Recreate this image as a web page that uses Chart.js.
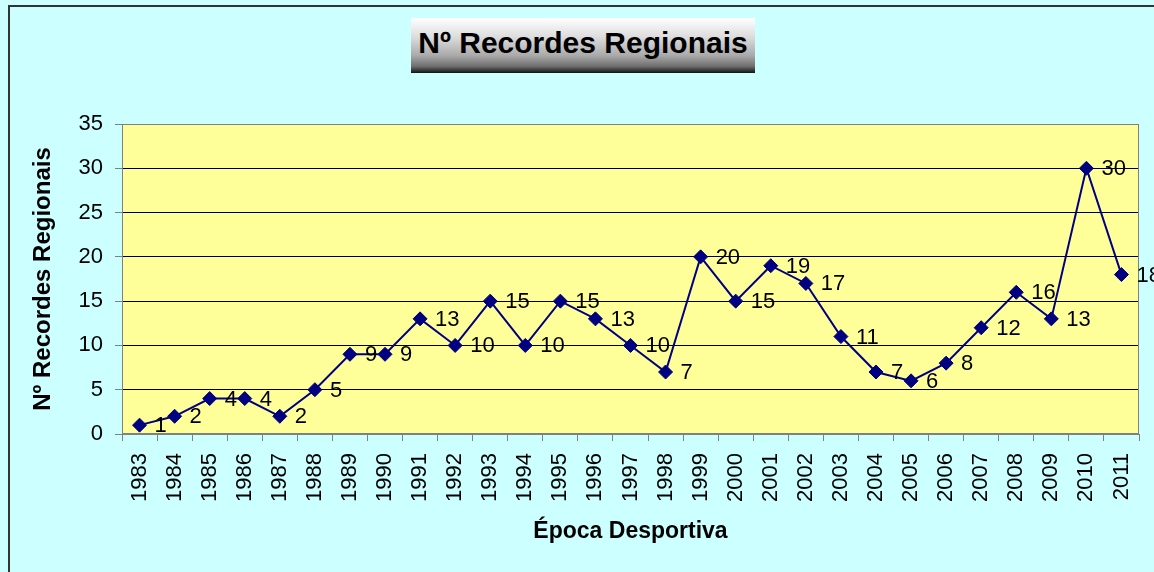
<!DOCTYPE html>
<html>
<head>
<meta charset="utf-8">
<script src="https://cdn.jsdelivr.net/npm/chart.js@4.4.1/dist/chart.umd.min.js"></script>
<style>
html,body{margin:0;padding:0;background:#CCFFFF;}
#wrap{position:relative;width:1154px;height:572px;overflow:hidden;background:#CCFFFF;}
#frame{position:absolute;left:8px;top:5px;width:1300px;height:700px;border-left:2px solid #333;border-top:2px solid #333;}
#title{position:absolute;left:411px;top:18px;width:344px;height:55px;line-height:49px;text-align:center;
  font-family:"Liberation Sans",Arial,sans-serif;font-weight:bold;font-size:30px;color:#000;
  background:linear-gradient(to bottom,#ffffff 0%,#dcdcdc 35%,#aaaaaa 68%,#6e6e6e 88%,#111111 100%);}
canvas{position:absolute;left:0;top:0;}
</style>
</head>
<body>
<div id="wrap">
  <div id="frame"></div>
  <canvas id="c" width="1154" height="572"></canvas>
  <div id="title">Nº Recordes Regionais</div>
</div>
<script>
const years = ['1983','1984','1985','1986','1987','1988','1989','1990','1991','1992','1993','1994','1995','1996','1997','1998','1999','2000','2001','2002','2003','2004','2005','2006','2007','2008','2009','2010','2011'];
const records = [1,2,4,4,2,5,9,9,13,10,15,10,15,13,10,7,20,15,19,17,11,7,6,8,12,16,13,30,18];
const yTicks = [0,5,10,15,20,25,30,35];

const FONT = '"Liberation Sans", Arial, sans-serif';

const plotBg = {
  id: 'plotBg',
  beforeDraw(chart) {
    const {ctx, chartArea: a} = chart;
    ctx.save();
    ctx.fillStyle = '#FFFF99';
    ctx.fillRect(a.left, a.top, a.right - a.left, a.bottom - a.top);
    ctx.restore();
  },
  beforeDatasetsDraw(chart) {
    const {ctx, chartArea: a} = chart;
    ctx.save();
    ctx.strokeStyle = '#808080';
    ctx.lineWidth = 1;
    ctx.strokeRect(a.left + 0.5, a.top + 0.5, a.right - a.left - 1, a.bottom - a.top - 1);
    ctx.restore();
  }
};

const dataLabels = {
  id: 'dataLabels',
  afterDatasetsDraw(chart) {
    const {ctx} = chart;
    const meta = chart.getDatasetMeta(0);
    ctx.save();
    ctx.font = '22px ' + FONT;
    ctx.fillStyle = '#000';
    ctx.textAlign = 'left';
    ctx.textBaseline = 'middle';
    meta.data.forEach((pt, i) => {
      ctx.fillText(String(records[i]), pt.x + 15, pt.y + 1);
    });
    ctx.restore();
  }
};

new Chart(document.getElementById('c'), {
  type: 'line',
  data: {
    labels: years,
    datasets: [{
      data: records,
      borderColor: '#000080',
      borderWidth: 2,
      pointStyle: 'rectRot',
      pointRadius: 7,
      pointBackgroundColor: '#000080',
      pointBorderColor: '#000080',
      pointBorderWidth: 1,
      tension: 0,
      fill: false
    }]
  },
  options: {
    responsive: false,
    animation: false,
    devicePixelRatio: 1,
    layout: {padding: {left: 10, right: 15, top: 124, bottom: 0}},
    plugins: {legend: {display: false}, tooltip: {enabled: false}, title: {display: false}},
    scales: {
      x: {
        type: 'category',
        offset: true,
        grid: {offset: true, drawOnChartArea: false, color: '#808080', tickLength: 7, lineWidth: 1},
        border: {color: '#808080', width: 1},
        ticks: {minRotation: 90, maxRotation: 90, autoSkip: false, color: '#000', padding: 12, font: {family: FONT, size: 22}},
        title: {display: true, text: 'Época Desportiva', color: '#000', font: {family: FONT, size: 23, weight: 'bold'}, padding: {top: 0, bottom: 27}},
        afterFit(scale) { scale.height = 138; scale.paddingLeft = 0; scale.paddingRight = 0; }
      },
      y: {
        min: 0,
        max: 35,
        afterBuildTicks(scale) { scale.ticks = yTicks.map(v => ({value: v})); },
        grid: {
          color: ctx => (ctx.tick && (ctx.tick.value === 0 || ctx.tick.value === 35)) ? '#808080' : '#000000',
          tickColor: '#808080',
          tickLength: 7,
          lineWidth: 1
        },
        border: {color: '#808080', width: 1},
        ticks: {color: '#000', padding: 12, font: {family: FONT, size: 22}},
        title: {display: true, text: 'Nº Recordes Regionais', color: '#000', font: {family: FONT, size: 24, weight: 'bold'}, padding: {top: 19, bottom: 0}},
        afterFit(scale) { scale.width = 112; scale.paddingTop = 0; scale.paddingBottom = 0; }
      }
    }
  },
  plugins: [plotBg, dataLabels]
});
</script>
</body>
</html>
